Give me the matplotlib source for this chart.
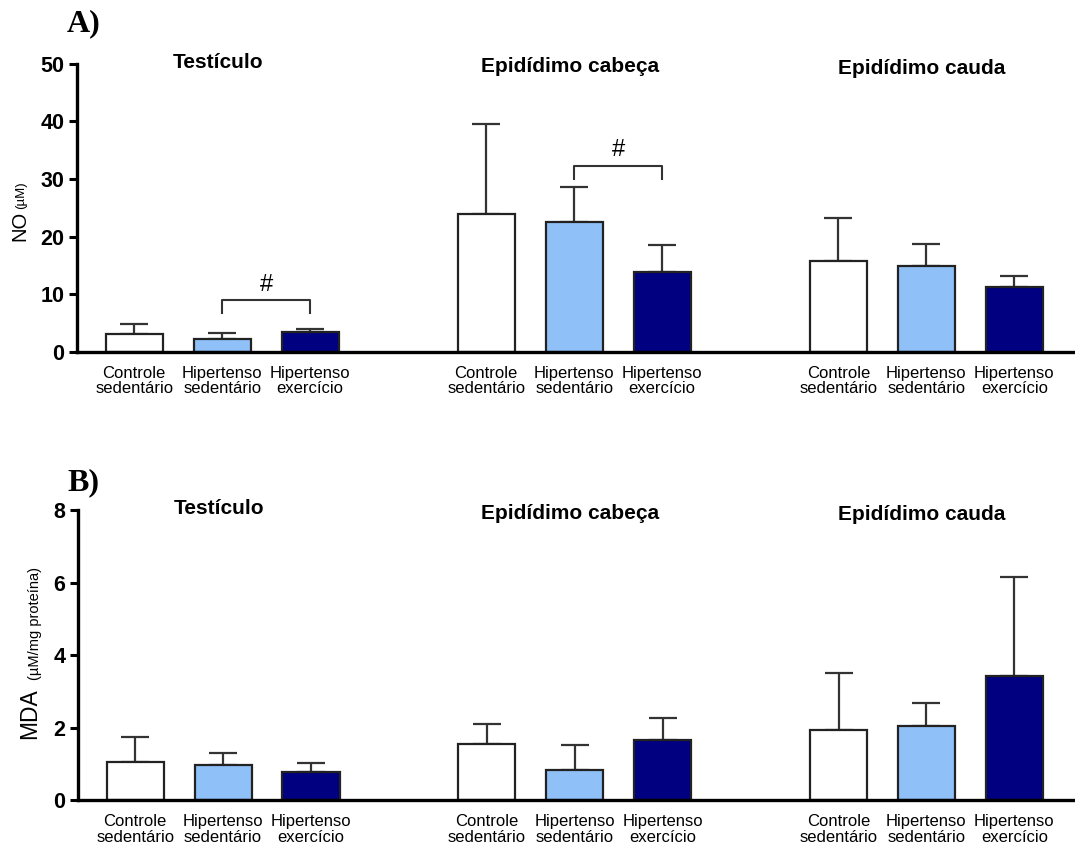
import numpy as np
import matplotlib.pyplot as plt
from matplotlib.transforms import blended_transform_factory

plt.rcParams['font.family'] = ['Liberation Sans', 'DejaVu Sans']

# dados
tecidos = ["Testículo", "Epidídimo cabeça", "Epidídimo cauda"]
grupos = ["Controle\nsedentário", "Hipertenso\nsedentário", "Hipertenso\nexercício"]
cores = ["#ffffff", "#90c0f8", "#000080"]

# NO (uM): media e desvio (so a parte de cima)
no_media = [[3.1, 2.25, 3.5], [24.0, 22.6, 13.8], [15.7, 14.95, 11.3]]
no_dp = [[1.8, 1.1, 0.55], [15.6, 6.0, 4.7], [7.5, 3.85, 1.9]]

# MDA (uM/mg proteina)
mda_media = [[1.04, 0.97, 0.78], [1.55, 0.84, 1.66], [1.92, 2.03, 3.41]]
mda_dp = [[0.71, 0.33, 0.24], [0.56, 0.67, 0.59], [1.58, 0.65, 2.74]]

# diferencas significativas (#): tecido, grupo a, grupo b, altura da chave
no_sig = [(0, 1, 2, 9.0), (1, 1, 2, 32.3)]
mda_sig = []

fig = plt.figure(figsize=(10.75, 8.5), dpi=100)

def painel(ax, media, dp, sig, ymax, passo, titulo_y):
    media = np.array(media)
    dp = np.array(dp)
    for t in range(3):
        x = t * 4 + np.arange(3) - 1
        ax.errorbar(x, media[t], yerr=[np.zeros(3), dp[t]], fmt="none",
                    ecolor="#333333", elinewidth=1.6, capsize=10, capthick=1.6, zorder=1)
        ax.bar(x, media[t], width=0.65, color=cores, edgecolor="#222222",
               linewidth=1.6, zorder=2)
        trans = blended_transform_factory(ax.transData, ax.transAxes)
        ax.text(t * 4 - 0.05, titulo_y[t], tecidos[t], transform=trans, ha="center",
                va="center", fontsize=15, fontweight="bold")
    for t, a, b, h in sig:
        xa, xb = t * 4 + a - 1, t * 4 + b - 1
        d = ymax * 0.045
        ax.plot([xa, xa, xb, xb], [h - d, h, h, h - d], color="#333333", lw=1.5)
        ax.text((xa + xb) / 2, h + ymax * 0.015, "#", ha="center", va="bottom", fontsize=17)

    ax.set_xlim(-1.65, 9.69)
    ax.set_ylim(0, ymax)
    ax.set_yticks(np.arange(0, ymax + 0.1, passo))
    pos = [t * 4 + g - 1 for t in range(3) for g in range(3)]
    ax.set_xticks(pos)
    ax.set_xticklabels(grupos * 3, fontsize=12, linespacing=1.05)
    ax.tick_params(axis="x", length=0, pad=10)
    ax.tick_params(axis="y", length=6, width=2.2, labelsize=15.5, pad=3)
    for lab in ax.get_yticklabels():
        lab.set_fontweight("bold")
    ax.spines["top"].set_visible(False)
    ax.spines["right"].set_visible(False)
    ax.spines["left"].set_linewidth(2.4)
    ax.spines["bottom"].set_linewidth(2.4)
    ax.spines["left"].set_bounds(0, ymax)

axA = fig.add_axes([0.0716, 0.586, 0.9284, 0.339])
painel(axA, no_media, no_dp, no_sig, 50, 10, [1.005, 0.99, 0.985])

axB = fig.add_axes([0.0726, 0.0588, 0.9274, 0.341])
painel(axB, mda_media, mda_dp, mda_sig, 8, 2, [1.005, 0.99, 0.985])

# rotulos do eixo y
fig.text(20 / 1075, 1 - 226 / 850, "NO", rotation=90, ha="center", va="center", fontsize=14.5)
fig.text(21 / 1075, 1 - 195 / 850, "(µM)", rotation=90, ha="center", va="center", fontsize=9.5)
fig.text(30 / 1075, 1 - 714 / 850, "MDA", rotation=90, ha="center", va="center", fontsize=16.5)
fig.text(35 / 1075, 1 - 624 / 850, "(µM/mg proteína)", rotation=90, ha="center", va="center", fontsize=10.5)

# letras dos paineis
fig.text(67 / 1075, 1 - 24 / 850, "A)", family="Liberation Serif", fontweight="bold",
         fontsize=23, ha="left", va="center")
fig.text(67 / 1075, 1 - 483 / 850, "B)", family="Liberation Serif", fontweight="bold",
         fontsize=23, ha="left", va="center")

fig.savefig("out.png", dpi=100)
